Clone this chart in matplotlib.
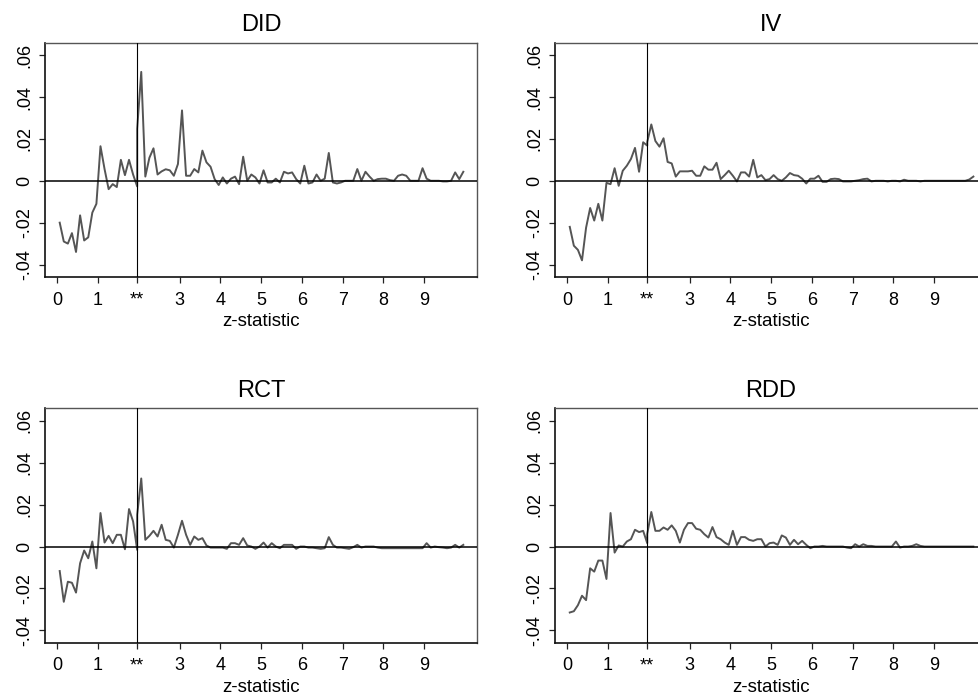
import numpy as np
import matplotlib
matplotlib.use("Agg")
import matplotlib.pyplot as plt

plt.rcParams['font.family'] = ['Liberation Sans', 'DejaVu Sans']

# bins of z below and above the 1.96 threshold
z_lo = np.round(0.06 + 0.1 * np.arange(20), 2)
z_hi = np.round(1.96 + 0.1 * np.arange(81), 2)

did_lo = [-0.020, -0.029, -0.030, -0.025, -0.034, -0.0165, -0.0285, -0.027, -0.0152, -0.011,
          0.0165, 0.0056, -0.004, -0.0016, -0.003, 0.010, 0.0027, 0.010, 0.003, -0.0027]
did_hi = [0.0248, 0.052, 0.002, 0.011, 0.0155, 0.003, 0.0045, 0.0055, 0.005, 0.0024,
          0.008, 0.0336, 0.0024, 0.0024, 0.0056, 0.004, 0.0144, 0.0088, 0.0067, 0.0008,
          -0.002, 0.0016, -0.0013, 0.001, 0.002, -0.0016, 0.0115, 0.0, 0.003, 0.0016,
          -0.0013, 0.005, -0.0008, -0.0008, 0.001, -0.0008, 0.0043, 0.0035, 0.004, 0.0008,
          -0.0013, 0.0072, -0.0013, -0.0008, 0.003, 0.0, 0.001, 0.0133, -0.0008, -0.0013,
          -0.0008, 0.0, 0.0, 0.0, 0.0056, 0.0, 0.0043, 0.002, 0.0, 0.0008,
          0.001, 0.001, 0.0003, 0.0, 0.0024, 0.003, 0.0024, 0.0, 0.0, 0.0,
          0.006, 0.001, 0.0, 0.0, 0.0, -0.0003, -0.0003, 0.0, 0.004, 0.0008, 0.0043]

iv_lo = [-0.022, -0.031, -0.033, -0.038, -0.0224, -0.013, -0.019, -0.011, -0.019, -0.001,
         -0.0016, 0.006, -0.0024, 0.0048, 0.0072, 0.0104, 0.0157, 0.0043, 0.0184, 0.0168]
iv_hi = [0.0185, 0.0269, 0.019, 0.0163, 0.0203, 0.009, 0.0083, 0.002, 0.0045, 0.0045,
         0.0045, 0.0048, 0.0024, 0.0024, 0.0069, 0.0053, 0.0053, 0.0086, 0.0008, 0.0027,
         0.0048, 0.0024, -0.0003, 0.004, 0.004, 0.002, 0.010, 0.0016, 0.0027, 0.0003,
         0.0008, 0.0027, 0.0008, 0.0, 0.0016, 0.0037, 0.0027, 0.0024, 0.001, -0.0013,
         0.001, 0.001, 0.0024, -0.0005, -0.0005, 0.0008, 0.001, 0.0008, -0.0003, -0.0003,
         -0.0003, 0.0, 0.0003, 0.0008, 0.001, -0.0003, 0.0, 0.0, 0.0, -0.0003,
         0.0, 0.0, -0.0003, 0.0005, 0.0, 0.0, 0.0, -0.0003, 0.0, 0.0,
         0.0, 0.0, 0.0, 0.0, 0.0, 0.0, 0.0, 0.0, 0.0, 0.0006, 0.002]

rct_lo = [-0.0117, -0.0264, -0.0168, -0.0173, -0.022, -0.008, -0.0019, -0.0056, 0.0024, -0.0104,
          0.016, 0.0019, 0.0051, 0.0016, 0.0056, 0.0056, -0.0013, 0.0179, 0.012, -0.0016]
rct_hi = [0.0152, 0.0325, 0.0032, 0.0051, 0.0075, 0.0048, 0.0104, 0.0032, 0.0027, -0.0005,
          0.0056, 0.0123, 0.0056, 0.0008, 0.0048, 0.0032, 0.004, 0.0005, -0.0005, -0.0005,
          -0.0005, -0.0005, -0.0011, 0.0016, 0.0016, 0.0008, 0.004, 0.0005, 0.0, -0.0011,
          0.0, 0.0019, -0.0005, 0.0016, 0.0, -0.0008, 0.0008, 0.0008, 0.0008, -0.0011,
          0.0, 0.0, -0.0005, -0.0005, -0.0008, -0.0011, -0.0008, 0.0045, 0.0008, -0.0005,
          -0.0005, -0.0008, -0.0011, -0.0003, 0.0008, -0.0005, 0.0, 0.0, 0.0, -0.0005,
          -0.0008, -0.0008, -0.0008, -0.0008, -0.0008, -0.0008, -0.0008, -0.0008, -0.0008, -0.0008,
          -0.0008, 0.0016, -0.0005, 0.0, -0.0003, -0.0005, -0.0008, -0.0005, 0.0008, -0.0005, 0.0008]

rdd_lo = [-0.0315, -0.0309, -0.028, -0.0235, -0.0256, -0.0104, -0.012, -0.0067, -0.0067, -0.0155,
          0.016, -0.0029, 0.0005, 0.0, 0.0024, 0.0035, 0.008, 0.0069, 0.0075, 0.0016]
rdd_hi = [0.006, 0.0165, 0.0075, 0.0075, 0.0091, 0.008, 0.0101, 0.0075, 0.0019, 0.008,
          0.0112, 0.0112, 0.0085, 0.008, 0.0059, 0.0043, 0.0093, 0.0045, 0.0035, 0.0019,
          0.0008, 0.0075, 0.0008, 0.0045, 0.0045, 0.0032, 0.0027, 0.0035, 0.0035, 0.0,
          0.0016, 0.0019, 0.0008, 0.0053, 0.0043, 0.0008, 0.0032, 0.0011, 0.0027, 0.0008,
          -0.0008, 0.0, 0.0, 0.0003, 0.0, 0.0, 0.0, 0.0, 0.0, -0.0005,
          -0.0008, 0.0011, 0.0, 0.0011, 0.0003, 0.0003, 0.0, 0.0, 0.0, 0.0,
          0.0, 0.0024, -0.0005, 0.0, 0.0, 0.0003, 0.0011, 0.0003, 0.0, 0.0,
          0.0, 0.0, 0.0, 0.0, 0.0, 0.0, 0.0, 0.0, 0.0, 0.0, 0.0]

titles = ['DID', 'IV', 'RCT', 'RDD']
series = [(did_lo, did_hi), (iv_lo, iv_hi), (rct_lo, rct_hi), (rdd_lo, rdd_hi)]

xticks = [0, 1, 1.96, 3, 4, 5, 6, 7, 8, 9]
xlabels = ['0', '1', '**', '3', '4', '5', '6', '7', '8', '9']
yticks = [-0.04, -0.02, 0, 0.02, 0.04, 0.06]
ylabels = ['-.04', '-.02', '0', '.02', '.04', '.06']

fig = plt.figure(figsize=(9.79, 6.98), dpi=100)
w, h = 0.441, 0.336
positions = [(0.046, 0.603), (0.567, 0.603), (0.046, 0.079), (0.567, 0.079)]

for (x0, y0), title, (lo, hi) in zip(positions, titles, series):
    ax = fig.add_axes([x0, y0, w, h])
    z = np.concatenate([z_lo, z_hi])
    v = np.concatenate([lo, hi])
    ax.plot(z, v, color='#555555', lw=1.4, zorder=2)
    ax.axhline(0, color='black', lw=1.1, zorder=3)
    ax.axvline(1.96, color='black', lw=0.8, zorder=3)

    ax.set_xlim(-0.3, 10.29)
    ax.set_ylim(-0.046, 0.066)
    ax.set_xticks(xticks)
    ax.set_xticklabels(xlabels)
    ax.set_yticks(yticks)
    ax.set_yticklabels(ylabels, rotation=90, va='center')
    ax.tick_params(axis='both', length=4.5, width=0.9, labelsize=13, color='#222222')
    ax.tick_params(axis='x', pad=6)
    ax.tick_params(axis='y', pad=4)
    ax.set_xlabel('z-statistic', fontsize=13.5, labelpad=3)
    ax.set_title(title, fontsize=17, pad=8)

    for side in ['left', 'bottom']:
        ax.spines[side].set_color('#111111')
        ax.spines[side].set_linewidth(1.2)
    for side in ['top', 'right']:
        ax.spines[side].set_color('#555555')
        ax.spines[side].set_linewidth(1.0)

fig.savefig('out.png', dpi=100)
